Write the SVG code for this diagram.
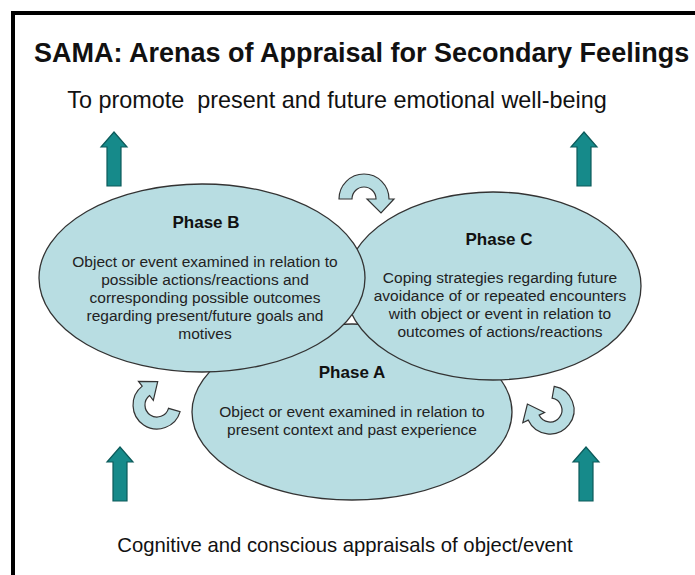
<svg xmlns="http://www.w3.org/2000/svg" width="695" height="575" viewBox="0 0 695 575">
  <style>
    .frame { fill: none; stroke: #000; stroke-width: 4; }
    .phase { fill: #b8dde2; stroke: #333; stroke-width: 1.3; }
    .cycle { fill: #b8dde2; stroke: #333; stroke-width: 1.2; stroke-linejoin: miter; }
    .up { fill: #168a8a; stroke: #0c5a5a; stroke-width: 1.2; }
    .head { font-family: "Liberation Sans", Arial, sans-serif; font-weight: bold; fill: #111; }
    .caption { font-family: "Liberation Sans", Arial, sans-serif; fill: #111; }
    .ptitle { font-family: "Liberation Sans", Arial, sans-serif; font-weight: bold; font-size: 17px; fill: #111; text-anchor: middle; }
    .pbody { font-family: "Liberation Sans", Arial, sans-serif; font-size: 15.5px; fill: #222; text-anchor: middle; }
  </style>
  <defs>
    <!-- block arrow pointing up, tip at origin -->
    <path id="upArrow" d="M0 0 L13 15 L7 15 L7 54 L-7 54 L-7 15 L-13 15 Z"/>
  </defs>

  <rect width="695" height="575" fill="#fff"/>
  <!-- open frame: top and left rules only -->
  <path class="frame" d="M13 575 L13 13 L695 13"/>

  <g id="title">
    <text class="head" x="34" y="62" font-size="27">SAMA: Arenas of Appraisal for Secondary Feelings</text>
  </g>
  <g id="goal">
    <text class="caption" x="337" y="108" font-size="23.4" text-anchor="middle" xml:space="preserve">To promote  present and future emotional well-being</text>
  </g>

  <g id="phase-a">
    <ellipse class="phase" cx="352" cy="412" rx="160" ry="88"/>
    <text class="ptitle" x="352" y="378">Phase A</text>
    <text class="pbody" x="352" y="417">Object or event examined in relation to</text>
    <text class="pbody" x="352" y="435">present context and past experience</text>
  </g>

  <g id="phase-c">
    <ellipse class="phase" cx="493" cy="286" rx="148" ry="94"/>
    <text class="ptitle" x="499" y="245">Phase C</text>
    <text class="pbody" x="500" y="283">Coping strategies regarding future</text>
    <text class="pbody" x="500" y="301">avoidance of or repeated encounters</text>
    <text class="pbody" x="500" y="319">with object or event in relation to</text>
    <text class="pbody" x="500" y="337">outcomes of actions/reactions</text>
  </g>

  <g id="phase-b">
    <ellipse class="phase" cx="202" cy="278" rx="163" ry="94"/>
    <text class="ptitle" x="206" y="228">Phase B</text>
    <text class="pbody" x="205" y="267">Object or event examined in relation to</text>
    <text class="pbody" x="205" y="285">possible actions/reactions and</text>
    <text class="pbody" x="205" y="303">corresponding possible outcomes</text>
    <text class="pbody" x="205" y="321">regarding present/future goals and</text>
    <text class="pbody" x="205" y="339">motives</text>
  </g>

  <g id="connectors">
    <!-- cycle arrows: A to B, B to C, C to A -->
    <path class="cycle" d="M180.1 411.6 A24 24 0 1 1 142.2 386.1 L138.5 381.4 L157.7 381.6 L153.3 400.3 L149.6 395.5 A12 12 0 1 0 168.5 408.3 Z"/>
    <path class="cycle" d="M339 199 A25 25 0 0 1 389 199 L394 199 L381 213 L367 199 L376 199 A12 12 0 0 0 352 199 Z"/>
    <path class="cycle" d="M554.2 386.4 A24 24 0 1 1 528.2 420.1 L522.8 422.7 L527.4 404 L544.6 412.5 L539.1 415.1 A12 12 0 1 0 552.1 398.2 Z"/>
    <!-- upward flow arrows -->
    <use href="#upArrow" class="up" transform="translate(114,132)"/>
    <use href="#upArrow" class="up" transform="translate(584,132)"/>
    <use href="#upArrow" class="up" transform="translate(120,447)"/>
    <use href="#upArrow" class="up" transform="translate(586,447)"/>
  </g>

  <g id="source">
    <text class="caption" x="345" y="552" font-size="20.3" text-anchor="middle">Cognitive and conscious appraisals of object/event</text>
  </g>
</svg>
